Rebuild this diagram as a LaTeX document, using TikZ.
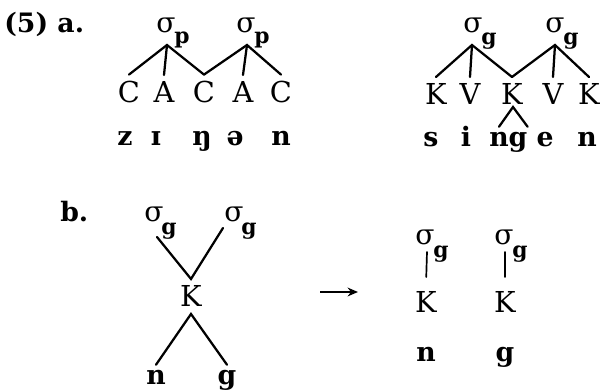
\documentclass[tikz,border=0pt]{standalone}
\usepackage{fontspec}
\setmainfont{DejaVu Serif}
\usetikzlibrary{arrows.meta}
\tikzset{
  seg/.style={font=\fontsize{20.5}{20}\selectfont,inner sep=0pt,outer ysep=0.175cm,anchor=base},
  phon/.style={font=\fontsize{19}{19}\selectfont\bfseries,inner sep=0pt,outer ysep=0.15cm,anchor=base},
  syl/.style={font=\fontsize{20}{20}\selectfont,inner sep=0pt,anchor=base},
  sylsub/.style={font=\fontsize{15.5}{15}\selectfont\bfseries,inner sep=0pt,anchor=base},
  extag/.style={font=\fontsize{19}{19}\selectfont\bfseries,inner sep=0pt,anchor=base west},
  assoc/.style={line width=1.6pt,line cap=round},
  rulearr/.style={-{Stealth[length=2.6mm,width=2.2mm]},line width=1.1pt}
}
\begin{document}
\begin{tikzpicture}[x=0.025cm,y=-0.025cm]
  \useasboundingbox (0,0) rectangle (601,392);
  % labels
  \node[extag] (lab5) at (4,33) {(5) a.};
  \node[extag] (labb) at (60,222) {b.};
  % a. left: CACAC
  \node[syl] (sp1) at (166,33) {σ};
  \node[sylsub] (sp1sub) at (182,44) {p};
  \node[syl] (sp2) at (246,33) {σ};
  \node[sylsub] (sp2sub) at (262,44) {p};
  \coordinate (ap1) at (167,45);
  \coordinate (ap2) at (247,45);
  \node[seg] (c1) at (129,103) {C};
  \node[seg] (c2) at (164,103) {A};
  \node[seg] (c3) at (204,103) {C};
  \node[seg] (c4) at (243,103) {A};
  \node[seg] (c5) at (281,103) {C};
  \draw[assoc] (c1.north) -- (ap1) -- (c3.north);
  \draw[assoc] (ap1) -- (c2.north);
  \draw[assoc] (c3.north) -- (ap2) -- (c5.north);
  \draw[assoc] (ap2) -- (c4.north);
  \node[phon] (z1) at (125,146) {z};
  \node[phon] (z2) at (156,146) {ɪ};
  \node[phon] (z3) at (202,146) {ŋ};
  \node[phon] (z4) at (235,146) {ə};
  \node[phon] (z5) at (281,146) {n};
  % a. right: KVKVK
  \node[syl] (sg1) at (473,33) {σ};
  \node[sylsub] (sg1sub) at (489,45) {g};
  \node[syl] (sg2) at (555,33) {σ};
  \node[sylsub] (sg2sub) at (571,45) {g};
  \coordinate (ag1) at (472,45);
  \coordinate (ag2) at (555,45);
  \node[seg] (k1) at (436,105) {K};
  \node[seg] (k2) at (470,105) {V};
  \node[seg] (k3) at (512,105) {K};
  \node[seg] (k4) at (553,105) {V};
  \node[seg] (k5) at (589,105) {K};
  \draw[assoc] (k1.north) -- (ag1) -- (k3.north);
  \draw[assoc] (ag1) -- (k2.north);
  \draw[assoc] (k3.north) -- (ag2) -- (k5.north);
  \draw[assoc] (ag2) -- (k4.north);
  \node[phon] (s1) at (431,147) {s};
  \node[phon] (s2) at (466,147) {i};
  \node[phon] (s3) at (499,147) {n};
  \node[phon] (s4) at (518,147) {g};
  \node[phon] (s5) at (545,147) {e};
  \node[phon] (s6) at (587,147) {n};
  \coordinate (kcar) at (513,107);
  \draw[assoc] (s3.north) -- (kcar) -- (s4.north east);
  % b. left: ambisyllabic K
  \node[syl] (bs1) at (154,222) {σ};
  \node[sylsub] (bs1sub) at (169,235) {g};
  \node[syl] (bs2) at (234,222) {σ};
  \node[sylsub] (bs2sub) at (249,235) {g};
  \coordinate (bl1) at (157,237);
  \coordinate (bl2) at (223,228);
  \node[seg] (bk) at (191,307) {K};
  \node[phon] (bn) at (156,385) {n};
  \node[phon] (bg) at (227,385) {g};
  \draw[assoc] (bl1) -- (bk.north) -- (bl2);
  \draw[assoc] (bn.north) -- (bk.south) -- (bg.north);
  % arrow
  \coordinate (arrfrom) at (320,292);
  \coordinate (arrto) at (358,292);
  \draw[rulearr] (arrfrom) -- (arrto);
  % b. right: split
  \node[syl] (rs1) at (425,245) {σ};
  \node[sylsub] (rs1sub) at (441,258) {g};
  \node[syl] (rs2) at (504,245) {σ};
  \node[sylsub] (rs2sub) at (520,258) {g};
  \coordinate (rl1) at (427,252);
  \coordinate (rl2) at (505,252);
  \node[seg] (rk1) at (426,313) {K};
  \node[seg] (rk2) at (505,313) {K};
  \draw[assoc,line width=1.2pt,shorten >=0.2cm] (rl1) -- (rk1.north);
  \draw[assoc,line width=1.2pt,shorten >=0.2cm] (rl2) -- (rk2.north);
  \node[phon] (rn) at (426,362) {n};
  \node[phon] (rg) at (505,362) {g};
\end{tikzpicture}
\end{document}
